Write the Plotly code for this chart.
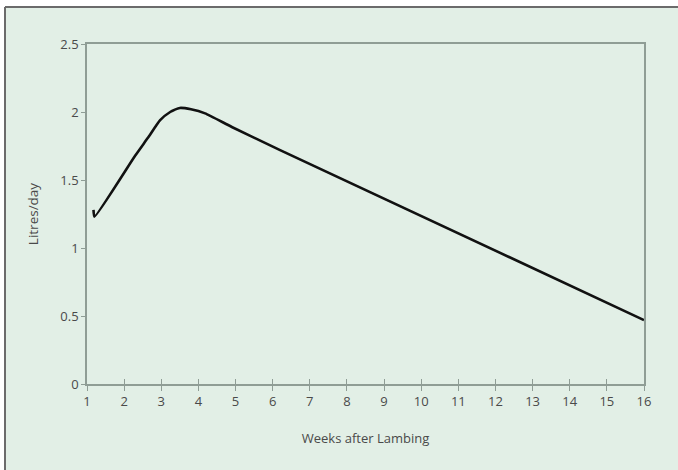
import plotly.graph_objects as go

# Ewe milk yield over the lactation
weeks = [1.175, 1.2, 2.3, 2.64, 2.97, 3.24, 3.5, 3.8, 4.18, 4.9, 6.2, 16.0]
litres = [1.28, 1.23, 1.68, 1.81, 1.94, 2.00, 2.03, 2.02, 1.99, 1.89, 1.72, 0.47]

x_ticks = list(range(1, 17))
y_ticks = [0, 0.5, 1, 1.5, 2, 2.5]
y_tick_text = ["0", "0.5", "1", "1.5", "2", "2.5"]

BG = "#e2efe6"
AXIS = "#8f9d95"
TEXT = "#4a4a4a"
FONT = "Open Sans"

fig = go.Figure()
fig.add_trace(go.Scatter(
    x=weeks, y=litres, mode="lines",
    line=dict(color="#111111", width=2.6, shape="spline", smoothing=0.5),
    hoverinfo="skip", showlegend=False,
))
# helper trace so the overlay axis (upper half of the x ticks) is drawn
fig.add_trace(go.Scatter(x=[x_ticks[0]], y=[0], xaxis="x2", mode="markers",
                         marker=dict(opacity=0), showlegend=False, hoverinfo="skip"))

L, R, T, B = 87, 34, 44, 86
W, H = 678, 470
pw, ph = W - L - R, H - T - B

def px_x(p):
    return (p - L) / pw

def px_y(p):
    return (H - B - p) / ph

shapes = [
    # panel background
    dict(type="rect", xref="paper", yref="paper", layer="below",
         x0=px_x(5), x1=px_x(W + 2), y0=px_y(H + 2), y1=px_y(7),
         fillcolor=BG, line=dict(width=0)),
    # frame lines along the top and left of the panel
    dict(type="line", xref="paper", yref="paper",
         x0=px_x(5), x1=px_x(W + 2), y0=px_y(7), y1=px_y(7),
         line=dict(color="#6b6b6b", width=2)),
    dict(type="line", xref="paper", yref="paper",
         x0=px_x(5), x1=px_x(5), y0=px_y(7), y1=px_y(H + 2),
         line=dict(color="#6b6b6b", width=2)),
]

fig.update_layout(
    width=W, height=H,
    margin=dict(l=L, r=R, t=T, b=B),
    paper_bgcolor="white", plot_bgcolor=BG,
    font=dict(family=FONT, color=TEXT, size=13),
    shapes=shapes,
    xaxis=dict(
        range=[1, 16], tickvals=x_ticks, ticktext=[str(v) for v in x_ticks],
        showgrid=False, zeroline=False,
        showline=True, linecolor=AXIS, linewidth=1.5, mirror=True,
        ticks="outside", ticklen=5, tickcolor=AXIS, tickwidth=1,
        tickfont=dict(size=13, color=TEXT),
        title=dict(text="Weeks after Lambing", standoff=25,
                   font=dict(size=13, color=TEXT)),
    ),
    xaxis2=dict(
        range=[1, 16], overlaying="x", anchor="y", side="bottom",
        tickvals=x_ticks, showticklabels=False, showgrid=False, zeroline=False,
        showline=False, ticks="inside", ticklen=5, tickcolor=AXIS, tickwidth=1,
    ),
    yaxis=dict(
        range=[0, 2.5], tickvals=y_ticks, ticktext=y_tick_text,
        showgrid=False, zeroline=False,
        showline=True, linecolor=AXIS, linewidth=1.5, mirror=True,
        ticks="outside", ticklen=4, tickcolor=AXIS, tickwidth=1,
        tickfont=dict(size=13, color=TEXT),
        title=dict(text="Litres/day", standoff=19,
                   font=dict(size=13.5, color=TEXT)),
    ),
)

fig.write_html("out.html")
